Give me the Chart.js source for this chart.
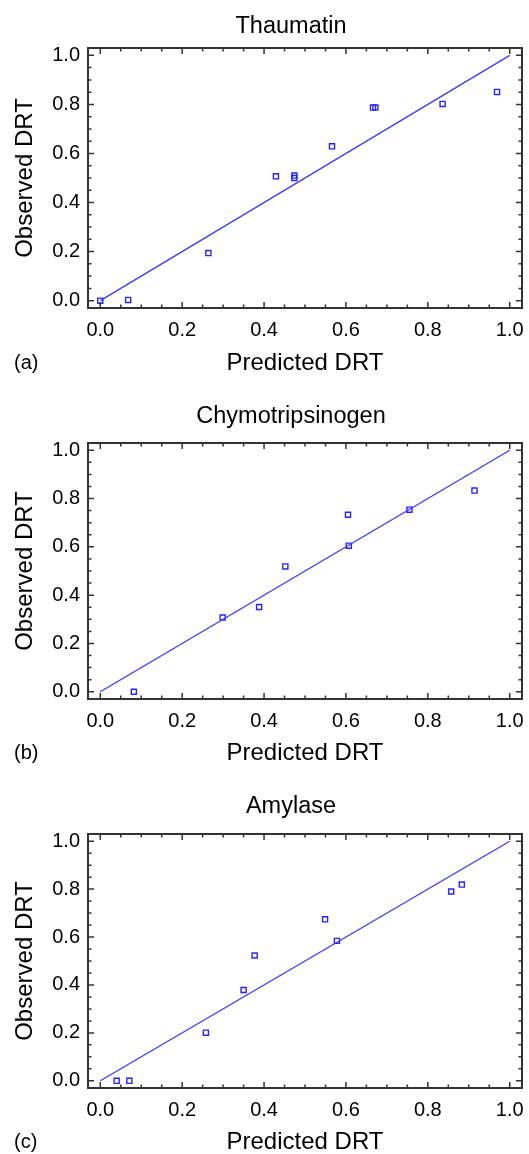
<!DOCTYPE html>
<html>
<head>
<meta charset="utf-8">
<script src="https://cdn.jsdelivr.net/npm/chart.js@4.4.1/dist/chart.umd.min.js"></script>
<style>
 body { margin: 0; background: #fff; }
 .panel { position: absolute; left: 0; }
</style>
</head>
<body>
<div class="panel" style="top:0px"><canvas id="chartA" width="529" height="390"></canvas></div>
<div class="panel" style="top:390px"><canvas id="chartB" width="529" height="390"></canvas></div>
<div class="panel" style="top:780px"><canvas id="chartC" width="529" height="374"></canvas></div>
<script>
// axis ticks (major are labelled, minor are only marks)
var axisTicks = [0, 0.2, 0.4, 0.6, 0.8, 1.0];
var minorTicks = [0.05, 0.1, 0.15, 0.25, 0.3, 0.35, 0.45, 0.5, 0.55, 0.65, 0.7, 0.75, 0.85, 0.9, 0.95];

// y = x reference line
var fitLineX = [0, 1];
var fitLineY = [0, 1];

// (a) Thaumatin
var thaumatinPredicted = [0.0, 0.068, 0.264, 0.429, 0.474, 0.474, 0.566, 0.666, 0.672, 0.836, 0.969];
var thaumatinObserved = [0.0, 0.003, 0.194, 0.507, 0.510, 0.500, 0.629, 0.787, 0.787, 0.802, 0.851];

// (b) Chymotripsinogen
var chymoPredicted = [0.082, 0.299, 0.388, 0.452, 0.605, 0.607, 0.755, 0.914];
var chymoObserved = [0.0, 0.307, 0.351, 0.519, 0.733, 0.605, 0.754, 0.833];

// (c) Amylase
var amylasePredicted = [0.040, 0.071, 0.258, 0.350, 0.377, 0.549, 0.578, 0.857, 0.883];
var amylaseObserved = [0.0, 0.0, 0.201, 0.379, 0.523, 0.674, 0.584, 0.790, 0.819];

var fontFamily = "'Liberation Sans', Arial, sans-serif";
var textColor = "#000";
var lineColor = "#3a3aff";
var pointColor = "#2424ff";

var panels = [
 { id: "chartA", title: "Thaumatin", tag: "(a)", x: thaumatinPredicted, y: thaumatinObserved,
   frameTop: 48, frameBottom: 308, xTitleY: 363 },
 { id: "chartB", title: "Chymotripsinogen", tag: "(b)", x: chymoPredicted, y: chymoObserved,
   frameTop: 53, frameBottom: 309, xTitleY: 363 },
 { id: "chartC", title: "Amylase", tag: "(c)", x: amylasePredicted, y: amylaseObserved,
   frameTop: 54, frameBottom: 308, xTitleY: 362 },
];

// box round the plot with inward ticks on all four sides
var frameTicksPlugin = {
 id: "frameTicks",
 afterDraw: function (chart) {
  var a = chart.chartArea;
  var ctx = chart.ctx;
  var xs = chart.scales.x;
  var ys = chart.scales.y;

  function tickSet(values, len) {
   values.forEach(function (v) {
    var px = xs.getPixelForValue(v);
    var py = ys.getPixelForValue(v);
    ctx.moveTo(px, a.bottom); ctx.lineTo(px, a.bottom - len);
    ctx.moveTo(px, a.top); ctx.lineTo(px, a.top + len);
    ctx.moveTo(a.left, py); ctx.lineTo(a.left + len, py);
    ctx.moveTo(a.right, py); ctx.lineTo(a.right - len, py);
   });
  }

  ctx.save();
  ctx.strokeStyle = "#333";
  ctx.lineWidth = 1.5;
  ctx.beginPath();
  tickSet(axisTicks, 6);
  tickSet(minorTicks, 3.5);
  ctx.stroke();
  ctx.lineWidth = 2;
  ctx.strokeRect(a.left, a.top, a.right - a.left, a.bottom - a.top);
  ctx.restore();
 },
};

// panel title and (a)/(b)/(c) tag
var panelTextPlugin = {
 id: "panelText",
 afterDraw: function (chart, args, opts) {
  var ctx = chart.ctx;
  ctx.save();
  ctx.fillStyle = textColor;
  ctx.textBaseline = "middle";
  ctx.font = "23.5px " + fontFamily;
  ctx.textAlign = "center";
  ctx.fillText(opts.title, 291, 27);
  ctx.font = "20px " + fontFamily;
  ctx.textAlign = "left";
  ctx.fillText(opts.tag, 14, opts.tagY);
  ctx.restore();
 },
};

function makeChart(p) {
 var canvas = document.getElementById(p.id);
 var H = canvas.height;

 var points = p.x.map(function (v, i) {
  return { x: v, y: p.y[i] };
 });
 var line = fitLineX.map(function (v, i) {
  return { x: v, y: fitLineY[i] };
 });

 new Chart(canvas, {
  type: "scatter",
  data: {
   datasets: [
    {
     data: line,
     showLine: true,
     borderColor: lineColor,
     borderWidth: 1.3,
     pointRadius: 0,
    },
    {
     data: points,
     pointStyle: "rect",
     pointRadius: 3.6,
     borderColor: pointColor,
     borderWidth: 1.4,
     backgroundColor: "rgba(255,255,255,0)",
    },
   ],
  },
  options: {
   responsive: false,
   animation: false,
   layout: { padding: { top: p.frameTop, right: 7, left: 0, bottom: 0 } },
   plugins: {
    legend: { display: false },
    tooltip: { enabled: false },
    panelText: { title: p.title, tag: p.tag, tagY: p.xTitleY },
   },
   scales: {
    x: {
     type: "linear",
     position: "bottom",
     min: -0.03,
     max: 1.03,
     afterBuildTicks: function (s) {
      s.ticks = axisTicks.map(function (v) { return { value: v }; });
     },
     afterFit: function (s) {
      s.height = H - p.frameBottom;
     },
     grid: { drawOnChartArea: false, drawTicks: true, tickLength: 10, tickColor: "rgba(0,0,0,0)" },
     border: { display: false },
     ticks: {
      padding: 0,
      color: textColor,
      font: { family: fontFamily, size: 20 },
      callback: function (v) { return v.toFixed(1); },
     },
     title: {
      display: true,
      text: "Predicted DRT",
      color: textColor,
      font: { family: fontFamily, size: 24, lineHeight: 1 },
      padding: { top: 0, bottom: H - p.xTitleY - 12 },
     },
    },
    y: {
     type: "linear",
     position: "left",
     min: -0.03,
     max: 1.03,
     afterBuildTicks: function (s) {
      s.ticks = axisTicks.map(function (v) { return { value: v }; });
     },
     afterFit: function (s) {
      s.width = 88;
     },
     grid: { drawOnChartArea: false, drawTicks: true, tickLength: 8, tickColor: "rgba(0,0,0,0)" },
     border: { display: false },
     ticks: {
      padding: 0,
      color: textColor,
      font: { family: fontFamily, size: 20 },
      callback: function (v) { return v.toFixed(1); },
     },
     title: {
      display: true,
      text: "Observed DRT",
      color: textColor,
      font: { family: fontFamily, size: 24, lineHeight: 1 },
      padding: { top: 13, bottom: 0 },
     },
    },
   },
  },
  plugins: [frameTicksPlugin, panelTextPlugin],
 });
}

panels.forEach(makeChart);
</script>
</body>
</html>
